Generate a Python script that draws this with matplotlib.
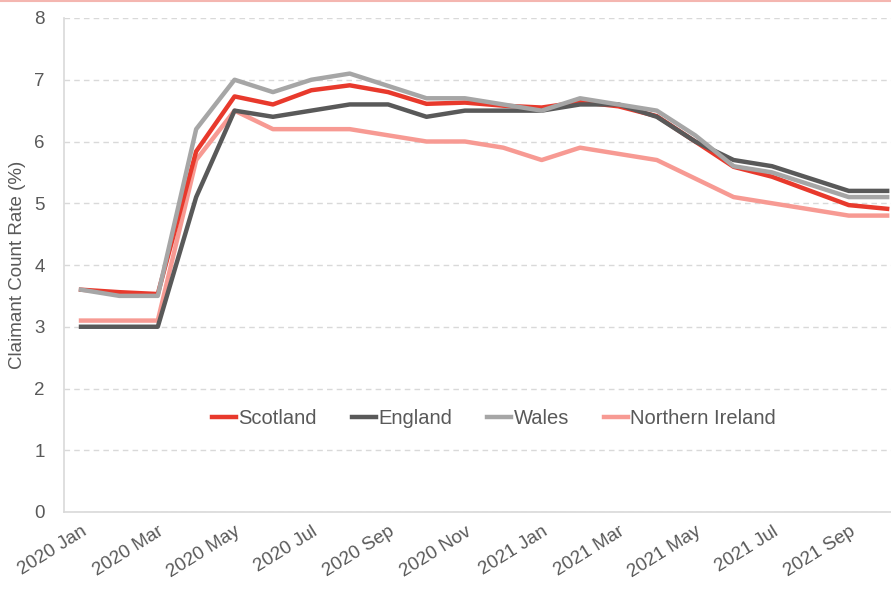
import matplotlib
matplotlib.use("Agg")
import matplotlib.pyplot as plt
from matplotlib.lines import Line2D

plt.rcParams['font.family'] = ['Liberation Sans', 'DejaVu Sans']

# monthly claimant count rate (%), Jan 2020 - Oct 2021
months = ['2020 Jan', '2020 Feb', '2020 Mar', '2020 Apr', '2020 May', '2020 Jun',
          '2020 Jul', '2020 Aug', '2020 Sep', '2020 Oct', '2020 Nov', '2020 Dec',
          '2021 Jan', '2021 Feb', '2021 Mar', '2021 Apr', '2021 May', '2021 Jun',
          '2021 Jul', '2021 Aug', '2021 Sep', '2021 Oct']

scotland = [3.6, 3.56, 3.53, 5.84, 6.73, 6.6, 6.83, 6.91, 6.8, 6.61, 6.63, 6.58,
            6.55, 6.64, 6.57, 6.41, 6.0, 5.59, 5.43, 5.2, 4.97, 4.91]
england = [3.0, 3.0, 3.0, 5.1, 6.5, 6.4, 6.5, 6.6, 6.6, 6.4, 6.5, 6.5,
           6.5, 6.6, 6.6, 6.4, 6.0, 5.7, 5.6, 5.4, 5.2, 5.2]
wales = [3.6, 3.5, 3.5, 6.2, 7.0, 6.8, 7.0, 7.1, 6.9, 6.7, 6.7, 6.6,
         6.5, 6.7, 6.6, 6.5, 6.1, 5.6, 5.5, 5.3, 5.1, 5.1]
n_ireland = [3.1, 3.1, 3.1, 5.7, 6.5, 6.2, 6.2, 6.2, 6.1, 6.0, 6.0, 5.9,
             5.7, 5.9, 5.8, 5.7, 5.4, 5.1, 5.0, 4.9, 4.8, 4.8]

c_scot = '#e8392c'
c_eng = '#595959'
c_wal = '#a6a6a6'
c_ni = '#f79a93'
txt = '#595959'
grid = '#d9d9d9'

fig = plt.figure(figsize=(8.91, 5.91), dpi=100)
ax = fig.add_axes([64 / 891, 79 / 591, 827 / 891, 494 / 591])

x = list(range(len(months)))
lw = 3.2
l_ni, = ax.plot(x, n_ireland, color=c_ni, lw=lw, label='Northern Ireland')
l_sc, = ax.plot(x, scotland, color=c_scot, lw=lw, label='Scotland')
l_en, = ax.plot(x, england, color=c_eng, lw=lw, label='England')
l_wa, = ax.plot(x, wales, color=c_wal, lw=lw, label='Wales')

ax.set_ylim(0, 8)
ax.set_xlim(-0.443, 21.1)
ax.set_yticks(range(0, 9))
ax.set_xticks(x[::2])
ax.set_xticklabels(months[::2], rotation=32, ha='right', rotation_mode='anchor')

ax.tick_params(axis='both', length=0, colors=txt, labelsize=13.5)
ax.tick_params(axis='y', pad=14)
ax.tick_params(axis='x', pad=8)

ax.grid(axis='y', color=grid, linestyle=(0, (4, 3)), lw=1)
ax.set_axisbelow(True)
for side in ['top', 'right']:
    ax.spines[side].set_visible(False)
ax.spines['left'].set_color(grid)
ax.spines['bottom'].set_color(grid)
ax.spines['left'].set_linewidth(1.2)
ax.spines['bottom'].set_linewidth(1.2)

ax.set_ylabel('Claimant Count Rate (%)', color=txt, fontsize=13.5, labelpad=6)

ax.legend(handles=[l_sc, l_en, l_wa, l_ni], ncol=4, frameon=False,
          loc='center', bbox_to_anchor=(0.52, 0.19), fontsize=14.5,
          handlelength=1.2, handletextpad=0.1, columnspacing=1.75,
          labelcolor=txt)

# thin pink border line at the top of the image
fig.add_artist(Line2D([0, 1], [0.999, 0.999], color='#f4b6b0', lw=1.5,
                      transform=fig.transFigure))

fig.savefig('out.png', dpi=100)
